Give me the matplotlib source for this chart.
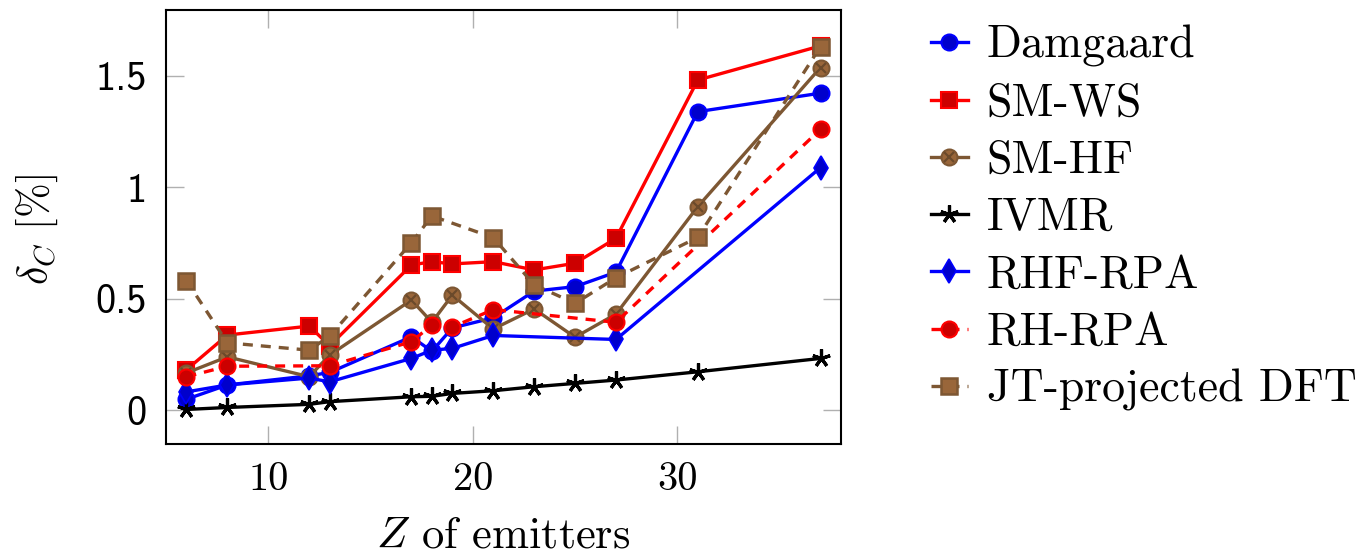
import numpy as np
import matplotlib
matplotlib.use('Agg')
from matplotlib import pyplot as plt
from matplotlib.legend_handler import HandlerTuple

#%% DATA

Z = [6, 8, 12, 13, 17, 18, 19, 21, 23, 25, 27, 31, 37]

damgaard = [0.05, 0.114, 0.155, 0.17, 0.33, 0.265, 0.37, 0.415, 0.535, 0.555,
            0.62, 1.34, 1.423]
sm_ws = [0.182, 0.338, 0.378, 0.29, 0.652, 0.667, 0.657, 0.667, 0.63, 0.66,
         0.772, 1.482, 1.635]
sm_hf = [0.168, 0.24, 0.151, 0.248, 0.495, 0.395, 0.517, 0.365, 0.455, 0.328,
         0.432, 0.914, 1.538]
ivmr = [0.004, 0.013, 0.027, 0.039, 0.061, 0.063, 0.076, 0.088, 0.106, 0.121,
        0.136, 0.173, 0.233]

Z_rhf = [6, 8, 12, 13, 17, 18, 19, 21, 27, 37]
rhf_rpa = [0.083, 0.114, 0.145, 0.128, 0.233, 0.27, 0.278, 0.336, 0.318, 1.089]

Z_rh = [6, 8, 13, 17, 18, 19, 21, 27, 37]
rh_rpa = [0.151, 0.198, 0.2, 0.308, 0.383, 0.374, 0.452, 0.395, 1.261]

Z_jt = [6, 8, 12, 13, 17, 18, 21, 23, 25, 27, 31, 37]
jt_dft = [0.582, 0.303, 0.27, 0.333, 0.752, 0.872, 0.775, 0.563, 0.48, 0.595,
          0.776, 1.632]

labels = ['Damgaard', 'SM-WS', 'SM-HF', 'IVMR', 'RHF-RPA', 'RH-RPA',
          'JT-projected DFT']

#%% STYLE

plt.rcParams['mathtext.fontset'] = 'cm'
plt.rcParams['axes.formatter.use_mathtext'] = True

BLUE, BLUE_F = '#0000ff', '#0000cc'
RED, RED_F = '#ff0000', '#cc0000'
BROWN, BROWN_F = '#7d5733', '#99663a'

LW = 2.4
dash = (3.0, 2.4)

#%% PLOT

fig = plt.figure(figsize=(13.63, 5.56), dpi=100)
ax = fig.add_axes([0.1218, 0.2014, 0.4952, 0.7806])

h1, = ax.plot(Z, damgaard, color=BLUE, lw=LW, marker='o', ms=11.5,
              mfc=BLUE_F, mec=BLUE, mew=1.5)
h2, = ax.plot(Z, sm_ws, color=RED, lw=LW, marker='s', ms=11.5,
              mfc=RED_F, mec=RED, mew=1.5)
h3a, = ax.plot(Z, sm_hf, color=BROWN, lw=LW, marker='o', ms=11.5,
               mfc=BROWN_F, mec=BROWN, mew=1.5)
h3b, = ax.plot(Z, sm_hf, ls='none', marker='x', ms=7, mec='#6b4a2b', mew=1.6)
h4, = ax.plot(Z, ivmr, color='black', lw=LW, marker=(5, 2, 0), ms=13,
              mec='black', mew=2.3)
h5, = ax.plot(Z_rhf, rhf_rpa, color=BLUE, lw=LW, marker='d', ms=12,
              mfc=BLUE_F, mec=BLUE, mew=1.2)
h6, = ax.plot(Z_rh, rh_rpa, color=RED, lw=LW, ls=(0, dash), marker='o',
              ms=11.5, mfc=RED_F, mec=RED, mew=1.5)
h7, = ax.plot(Z_jt, jt_dft, color=BROWN, lw=LW, ls=(0, dash), marker='s',
              ms=12, mfc=BROWN_F, mec=BROWN, mew=1.8)

ax.set_xlim(5, 38)
ax.set_ylim(-0.151, 1.796)
ax.set_xticks([10, 20, 30])
ax.set_yticks([0, 0.5, 1, 1.5])
ax.set_xticklabels(['10', '20', '30'], fontfamily='cmr10', fontsize=29)
ax.set_yticklabels(['0', '0.5', '1', '1.5'], fontfamily='cmss10', fontsize=29)
ax.tick_params(direction='in', length=13, width=1, color='#b0b0b0',
               top=True, right=True)
ax.tick_params(axis='x', pad=13)
ax.tick_params(axis='y', pad=14)
for s in ax.spines.values():
    s.set_linewidth(1.5)

ax.set_xlabel(r'$Z$ of emitters', fontfamily='cmr10', fontsize=32)
ax.xaxis.set_label_coords(0.5, -0.168)
ax.set_ylabel(r'$\delta_C$ [%]', fontfamily='cmr10', fontsize=30)
ax.yaxis.set_label_coords(-0.157, 0.493)

fig.legend([h1, h2, (h3a, h3b), h4, h5, h6, h7], labels,
           handler_map={tuple: HandlerTuple(ndivide=1, pad=0)},
           loc='upper left', bbox_to_anchor=(0.6645, 1.0), frameon=False,
           prop={'family': 'cmr10', 'size': 33}, handlelength=0.8,
           handletextpad=0.42, labelspacing=0.34, borderaxespad=0.15)

fig.savefig('out.png', dpi=100)
